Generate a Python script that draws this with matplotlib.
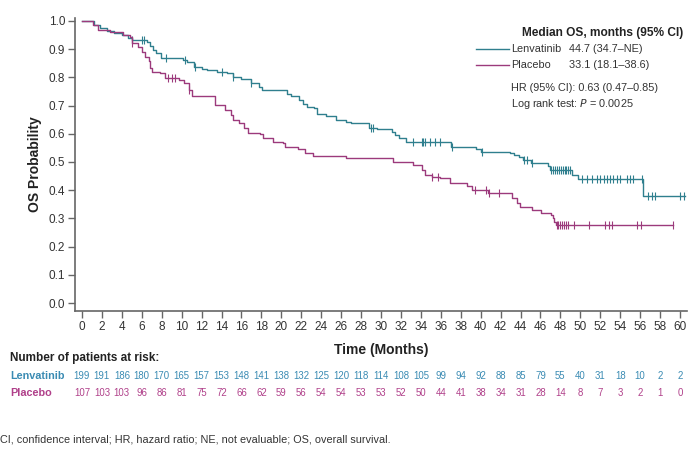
import numpy as np
import matplotlib
matplotlib.use("Agg")
import matplotlib.pyplot as plt
from matplotlib.lines import Line2D
import matplotlib.transforms as mtrans

plt.rcParams['font.family'] = ['Liberation Sans', 'DejaVu Sans']

# ---- data ----
len_t = [0, 1.2, 1.8, 2.5, 3.2, 4.0, 4.6, 5.0, 6.5, 6.8, 7.1, 7.4, 7.9, 10.1, 10.5, 11.2, 12.0,
         12.5, 13.5, 14.5, 15.2, 16.0, 17.0, 17.8, 18.1, 20.6, 21.0, 21.8, 22.2, 22.6, 23.3,
         23.6, 24.5, 25.5, 26.5, 27.0, 28.8, 29.6, 31.1, 31.4, 31.8, 32.5, 37.0, 39.5, 40.0,
         42.9, 43.3, 43.8, 44.2, 45.0, 46.8, 47.0, 49.2, 49.8, 56.3]
len_s = [1.0, 0.985, 0.975, 0.965, 0.958, 0.95, 0.94, 0.933, 0.924, 0.91, 0.895, 0.886, 0.87,
         0.86, 0.853, 0.838, 0.83, 0.826, 0.82, 0.815, 0.802, 0.795, 0.781, 0.765, 0.755,
         0.742, 0.732, 0.72, 0.705, 0.696, 0.69, 0.67, 0.663, 0.649, 0.642, 0.639, 0.62,
         0.616, 0.605, 0.596, 0.584, 0.572, 0.554, 0.545, 0.537, 0.533, 0.526, 0.519, 0.507,
         0.498, 0.486, 0.472, 0.454, 0.44, 0.379]
len_end = 60.5
len_cens = [5.0, 6.0, 6.2, 8.4, 10.3, 11.3, 14.0, 15.2, 17.0, 29.0, 29.2, 33.2, 34.1, 34.2,
            34.4, 34.9, 35.4, 35.9, 37.1, 40.1, 44.3, 44.6, 45.1, 47.1, 47.3, 47.5, 47.7,
            47.9, 48.1, 48.3, 48.5, 48.6, 48.8, 49.0, 50.2, 50.7, 51.2, 51.7, 52.0, 52.4, 52.7,
            53.0, 53.3, 53.7, 54.0, 54.7, 55.0, 55.3, 56.2, 56.8, 57.2, 57.5, 60.0, 60.4]

pla_t = [0, 1.1, 1.6, 2.8, 4.1, 4.8, 5.0, 5.6, 6.0, 6.3, 6.7, 6.8, 7.0, 7.8, 8.3, 9.7, 10.2,
         10.7, 11.0, 13.3, 14.3, 15.0, 15.2, 15.8, 16.3, 16.7, 17.9, 18.2, 19.2, 20.2, 20.4,
         21.7, 22.4, 23.2, 26.5, 31.2, 33.2, 34.1, 34.4, 35.1, 35.9, 36.9, 38.6, 39.1, 40.7,
         43.1, 43.6, 43.9, 45.1, 46.1, 47.1, 47.3, 47.4, 47.6]
pla_s = [1.0, 0.986, 0.968, 0.962, 0.95, 0.944, 0.921, 0.909, 0.891, 0.873, 0.856, 0.832, 0.82,
         0.815, 0.797, 0.791, 0.779, 0.755, 0.732, 0.702, 0.684, 0.667, 0.649, 0.637, 0.62,
         0.604, 0.6, 0.584, 0.572, 0.566, 0.552, 0.545, 0.531, 0.522, 0.513, 0.501, 0.489,
         0.472, 0.454, 0.446, 0.442, 0.427, 0.415, 0.401, 0.389, 0.371, 0.354, 0.342, 0.33,
         0.318, 0.312, 0.3, 0.288, 0.277]
pla_end = 59.3
pla_cens = [5.0, 8.6, 9.0, 9.3, 10.7, 35.1, 35.7, 39.4, 40.5, 40.8, 41.8, 47.7, 47.8, 48.0,
            48.2, 48.4, 48.6, 48.8, 49.4, 50.9, 52.5, 52.9, 53.2, 55.7, 56.1, 59.3]

risk_times = list(range(0, 61, 2))
len_risk = [199, 191, 186, 180, 170, 165, 157, 153, 148, 141, 138, 132, 125, 120, 118, 114,
            108, 105, 99, 94, 92, 88, 85, 79, 55, 40, 31, 18, 10, 2, 2]
pla_risk = [107, 103, 103, 96, 86, 81, 75, 72, 66, 62, 59, 56, 54, 54, 53, 53, 52, 50, 44,
            41, 38, 34, 31, 28, 14, 8, 7, 3, 2, 1, 0]

len_color = '#2f7f8e'
pla_color = '#9c3a7c'
len_txt = '#3a8bb3'
pla_txt = '#b0408a'

fig = plt.figure(figsize=(7, 4.53), dpi=100)
ax = fig.add_axes([75/700, 1-311/453, (687-75)/700, (311-18)/453])


def draw(ts, ss, end, cens, color):
    x = list(ts) + [end]
    y = list(ss) + [ss[-1]]
    ax.step(x, y, where='post', color=color, lw=1.0)
    idx = np.searchsorted(np.array(ts), np.array(cens), side='right') - 1
    cy = np.array(ss)[idx]
    ax.plot(cens, cy, ls='none', marker='|', ms=5.5, mew=0.8, color=color)


draw(len_t, len_s, len_end, len_cens, len_color)
draw(pla_t, pla_s, pla_end, pla_cens, pla_color)

ax.set_xlim(-0.7, 60.7)
ax.set_ylim(-0.028, 1.01)
ax.set_xticks(risk_times)
ax.set_yticks(np.arange(0, 1.01, 0.1))
ax.set_yticklabels([f'{v:.1f}' for v in np.arange(0, 1.01, 0.1)])
for s in ['top', 'right']:
    ax.spines[s].set_visible(False)
for s in ['left', 'bottom']:
    ax.spines[s].set_color('#666666')
    ax.spines[s].set_linewidth(1.2)
ax.tick_params(axis='both', colors='#666666', labelcolor='#333333', labelsize=8.5,
               length=5, width=1.0, pad=2)
ax.set_ylabel('OS Probability', fontsize=10, fontweight='bold', color='#222222', labelpad=5)
fig.text(ax.get_position().x0 + ax.get_position().width / 2, 1 - 350/453, 'Time (Months)',
         ha='center', va='center', fontsize=10, fontweight='bold', color='#222222')

# at-risk table
trans = mtrans.blended_transform_factory(ax.transData, fig.transFigure)
fig.text(10/700, 1 - 358/453, 'Number of patients at risk:', fontsize=8.5,
         fontweight='bold', color='#222222', va='center')
fig.text(10/700, 1 - 376/453, 'Lenvatinib', fontsize=7.8, fontweight='bold',
         color=len_txt, va='center')
fig.text(10/700, 1 - 393/453, 'Placebo', fontsize=7.8, fontweight='bold',
         color=pla_txt, va='center')
for t, a, b in zip(risk_times, len_risk, pla_risk):
    ax.text(t, 1 - 376/453, str(a), transform=trans, ha='center', va='center',
            fontsize=6.9, color=len_txt)
    ax.text(t, 1 - 393/453, str(b), transform=trans, ha='center', va='center',
            fontsize=6.9, color=pla_txt)

fig.text(0.0, 1 - 439/453,
         'CI, confidence interval; HR, hazard ratio; NE, not evaluable; OS, overall survival.',
         fontsize=7.8, color='#333333', va='center')

# legend block
fig.text(683/700, 1 - 33/453, 'Median OS, months (95% CI)', ha='right', va='center',
         fontsize=8.6, fontweight='bold', color='#222222')
for yy, col, name, val in [(49, len_color, 'Lenvatinib', '44.7 (34.7\u2013NE)'),
                           (65, pla_color, 'Placebo', '33.1 (18.1\u201338.6)')]:
    fig.add_artist(Line2D([476/700, 509/700], [1 - yy/453, 1 - yy/453], color=col, lw=1.0))
    fig.text(511/700, 1 - yy/453, name, va='center', fontsize=7.8, color='#333333')
    fig.text(569/700, 1 - yy/453, val, va='center', fontsize=7.8, color='#333333')
fig.text(511/700, 1 - 88/453, 'HR (95% CI): 0.63 (0.47\u20130.85)', va='center',
         fontsize=7.8, color='#333333')
fig.text(511/700, 1 - 104/453, r'Log rank test: $\mathit{P}$ = 0.0025', va='center',
         fontsize=7.8, color='#333333')

fig.savefig('out.png', dpi=100)
